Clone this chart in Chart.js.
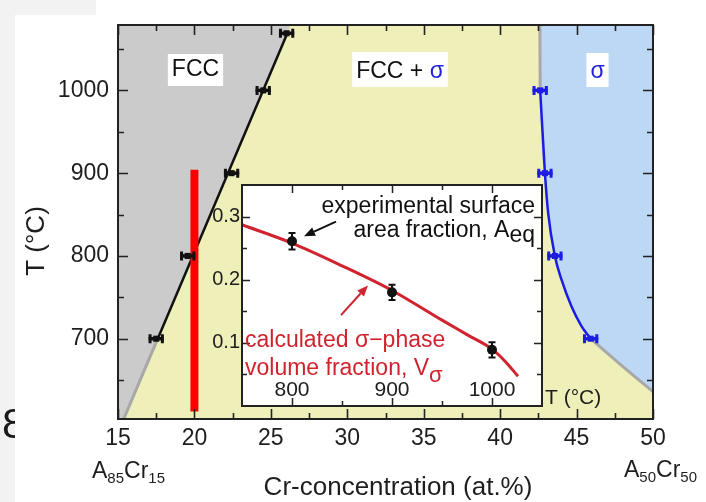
<!DOCTYPE html>
<html>
<head>
<meta charset="utf-8">
<script src="https://cdn.jsdelivr.net/npm/chart.js@4.4.0/dist/chart.umd.min.js"></script>
<style>
  html, body { margin: 0; padding: 0; background: #fff; }
  #wrap { position: relative; width: 706px; height: 502px; overflow: hidden; }
  #main { position: absolute; left: 0; top: 0; width: 706px; height: 502px; }
  #inset { position: absolute; left: 190px; top: 170px; width: 440px; height: 250px; }
</style>
</head>
<body>
<div id="wrap">
  <canvas id="main" width="706" height="502"></canvas>
  <canvas id="inset" width="440" height="250"></canvas>
</div>
<script>
// ---------- Phase diagram: Cr concentration (at.%) vs temperature (°C) ----------
const crTicks = [15, 20, 25, 30, 35, 40, 45, 50];
const crMinorTicks = [17.5, 22.5, 27.5, 32.5, 37.5, 42.5, 47.5];
const tempTicks = [700, 800, 900, 1000];
const tempMinorTicks = [650, 750, 850, 950, 1050];

// FCC / (FCC + σ) boundary: measured points with Cr uncertainty
const fccCr = [17.5, 19.56, 22.43, 24.5, 26.03];
const fccT = [700, 800, 900, 1000, 1069];
const fccErr = [0.5, 0.5, 0.5, 0.5, 0.5];
// fitted boundary and its extrapolation below 700 °C
const fccLineCr = [17.6, 26.1];
const fccLineT = [700, 1070];
const fccExtCr = [15.37, 17.6];
const fccExtT = [603, 700];
// FCC single-phase field (filled up to the top of the plot)
const fccFieldCr = [15, 15.37, 17.6, 26.1, 26.3];
const fccFieldT = [603, 603, 700, 1070, 1079];

// σ / (FCC + σ) boundary: measured points with Cr uncertainty
const sigCr = [45.92, 43.58, 42.93, 42.62];
const sigT = [700, 800, 900, 1000];
const sigErr = [0.5, 0.5, 0.5, 0.5];
// boundary curve and its grey continuations
const sigLineCr = [42.62, 42.93, 43.14, 43.58, 44.02, 44.67, 45.33, 45.92];
const sigLineT = [1000, 900, 852, 800, 771, 739, 715, 700];
const sigUpperCr = [42.6, 42.62];
const sigUpperT = [1079, 1000];
const sigLowerCr = [45.92, 48.05, 50];
const sigLowerT = [700, 666, 636];

// alloy with 20 at.% Cr, annealing temperature range
const alloyCr = [20, 20];
const alloyT = [612, 904];

// ---------- Inset: σ-phase fraction vs temperature ----------
const insetTTicks = [800, 900, 1000];
const insetTMinorTicks = [850, 950];
const insetVTicks = [0.1, 0.2, 0.3];
const insetVMinorTicks = [0.05, 0.15, 0.25];
// experimental surface area fraction A_eq
const expT = [800, 900, 1000];
const expA = [0.261, 0.180, 0.089];
const expAErr = [0.013, 0.012, 0.012];
// calculated σ-phase volume fraction V_σ
const calcT = [750, 800, 850, 900, 950, 975, 1000, 1013, 1026];
const calcV = [0.287, 0.258, 0.222, 0.183, 0.136, 0.113, 0.090, 0.071, 0.047];

// ---------- helpers ----------
const FONT = "'Liberation Sans', Arial, Helvetica, sans-serif";
Chart.defaults.font.family = FONT;
const pts = (xs, ys) => xs.map((x, i) => ({ x: x, y: ys[i] }));
const sigmaFieldCr = sigUpperCr.concat(sigLineCr.slice(1), sigLowerCr.slice(1));
const sigmaFieldT = sigUpperT.concat(sigLineT.slice(1), sigLowerT.slice(1));

function drawInwardTicks(chart, xMajor, xMinor, yMajor, yMinor, lenMajor, lenMinor, width) {
  const ctx = chart.ctx, a = chart.chartArea;
  const xs = chart.scales.x, ys = chart.scales.y;
  ctx.save();
  ctx.strokeStyle = '#222';
  ctx.lineWidth = width;
  ctx.beginPath();
  const xTick = (v, len) => {
    const px = Math.round(xs.getPixelForValue(v)) + 0.5;
    ctx.moveTo(px, a.top); ctx.lineTo(px, a.top + len);
    ctx.moveTo(px, a.bottom); ctx.lineTo(px, a.bottom - len);
  };
  const yTick = (v, len) => {
    const py = Math.round(ys.getPixelForValue(v)) + 0.5;
    ctx.moveTo(a.left, py); ctx.lineTo(a.left + len, py);
    ctx.moveTo(a.right, py); ctx.lineTo(a.right - len, py);
  };
  xMajor.forEach(v => xTick(v, lenMajor));
  xMinor.forEach(v => xTick(v, lenMinor));
  yMajor.forEach(v => yTick(v, lenMajor));
  yMinor.forEach(v => yTick(v, lenMinor));
  ctx.stroke();
  ctx.restore();
}

function drawFrame(chart, width) {
  const ctx = chart.ctx, a = chart.chartArea;
  ctx.save();
  ctx.strokeStyle = '#222';
  ctx.lineWidth = width;
  ctx.strokeRect(a.left, a.top, a.right - a.left, a.bottom - a.top);
  ctx.restore();
}

function drawArrow(ctx, x1, y1, x2, y2, color, width, headLen, headHalf) {
  const ang = Math.atan2(y2 - y1, x2 - x1);
  const bx = x2 - headLen * Math.cos(ang), by = y2 - headLen * Math.sin(ang);
  ctx.save();
  ctx.strokeStyle = color; ctx.fillStyle = color; ctx.lineWidth = width;
  ctx.beginPath(); ctx.moveTo(x1, y1); ctx.lineTo(bx, by); ctx.stroke();
  ctx.beginPath();
  ctx.moveTo(x2, y2);
  ctx.lineTo(bx + headHalf * Math.sin(ang), by - headHalf * Math.cos(ang));
  ctx.lineTo(bx - headHalf * Math.sin(ang), by + headHalf * Math.cos(ang));
  ctx.closePath(); ctx.fill();
  ctx.restore();
}

// error bars (horizontal errX or vertical errY) drawn with their dataset
const errorBars = {
  id: 'errorBars',
  afterDatasetDraw(chart, args) {
    const ds = chart.data.datasets[args.index];
    if (!ds.errX && !ds.errY) return;
    const ctx = chart.ctx, xs = chart.scales.x, ys = chart.scales.y;
    ctx.save();
    ctx.strokeStyle = ds.errColor;
    ds.data.forEach((p, j) => {
      const px = xs.getPixelForValue(p.x), py = ys.getPixelForValue(p.y);
      if (ds.errX) {
        const a = xs.getPixelForValue(p.x - ds.errX[j]);
        const b = xs.getPixelForValue(p.x + ds.errX[j]);
        ctx.lineWidth = 3.5;
        ctx.beginPath();
        ctx.moveTo(a, py); ctx.lineTo(b, py);
        ctx.stroke();
        ctx.lineWidth = 3;
        ctx.beginPath();
        ctx.moveTo(a + 1.5, py - 4.5); ctx.lineTo(a + 1.5, py + 4.5);
        ctx.moveTo(b - 1.5, py - 4.5); ctx.lineTo(b - 1.5, py + 4.5);
        ctx.stroke();
      }
      if (ds.errY) {
        const a = ys.getPixelForValue(p.y - ds.errY[j]);
        const b = ys.getPixelForValue(p.y + ds.errY[j]);
        ctx.lineWidth = 2;
        ctx.beginPath();
        ctx.moveTo(px, a); ctx.lineTo(px, b);
        ctx.moveTo(px - 3.5, a); ctx.lineTo(px + 3.5, a);
        ctx.moveTo(px - 3.5, b); ctx.lineTo(px + 3.5, b);
        ctx.stroke();
      }
    });
    ctx.restore();
  }
};

function labelBox(ctx, parts, cx, baseline, boxTop, boxBottom, padX) {
  ctx.font = '23px ' + FONT;
  const widths = parts.map(p => ctx.measureText(p.text).width);
  const total = widths.reduce((s, w) => s + w, 0);
  const x0 = cx - total / 2;
  ctx.fillStyle = '#ffffff';
  ctx.fillRect(x0 - padX, boxTop, total + 2 * padX, boxBottom - boxTop);
  let x = x0;
  ctx.textAlign = 'left';
  ctx.textBaseline = 'alphabetic';
  parts.forEach((p, i) => { ctx.fillStyle = p.color; ctx.fillText(p.text, x, baseline); x += widths[i]; });
}

function compositionLabel(ctx, x, baseline, parts) {
  let cx = x;
  ctx.textAlign = 'left';
  ctx.textBaseline = 'alphabetic';
  ctx.fillStyle = '#1e1e1e';
  parts.forEach(p => {
    ctx.font = (p.sub ? '15px ' : '23px ') + FONT;
    ctx.fillText(p.text, cx, baseline + (p.sub ? 5 : 0));
    cx += ctx.measureText(p.text).width;
  });
}

const mainDecor = {
  id: 'mainDecor',
  beforeDraw(chart) {
    const ctx = chart.ctx;
    ctx.save();
    ctx.fillStyle = '#ffffff';
    ctx.fillRect(0, 0, chart.width, chart.height);
    ctx.fillStyle = '#f2f2f2';
    ctx.fillRect(0, 0, 15, chart.height);
    ctx.fillRect(0, 0, 96, 15);
    ctx.beginPath(); ctx.rect(0, 0, 15, chart.height); ctx.clip();
    ctx.fillStyle = '#1a1a1a';
    ctx.font = '42px ' + FONT;
    ctx.textBaseline = 'alphabetic';
    ctx.fillText('8', 2, 438);
    ctx.restore();
  },
  beforeDatasetsDraw(chart) {
    const ctx = chart.ctx, a = chart.chartArea;
    ctx.save();
    ctx.fillStyle = '#efefb9';
    ctx.fillRect(a.left, a.top, a.right - a.left, a.bottom - a.top);
    ctx.restore();
  },
  afterDatasetsDraw(chart) {
    const ctx = chart.ctx;
    drawInwardTicks(chart, crTicks, crMinorTicks, tempTicks, tempMinorTicks, 10, 6, 1.6);
    drawFrame(chart, 2);
    ctx.save();
    labelBox(ctx, [{ text: 'FCC', color: '#111' }], 195.5, 76, 54, 86, 4);
    labelBox(ctx, [{ text: 'FCC + ', color: '#111' }, { text: 'σ', color: '#2222dd' }], 400, 78, 52, 87, 4);
    labelBox(ctx, [{ text: 'σ', color: '#2222dd' }], 597.5, 78, 53, 87, 4);
    ctx.restore();
  },
  afterDraw(chart) {
    const ctx = chart.ctx;
    ctx.save();
    ctx.fillStyle = '#1e1e1e';
    ctx.font = '26px ' + FONT;
    ctx.textAlign = 'center';
    ctx.textBaseline = 'alphabetic';
    ctx.fillText('Cr-concentration (at.%)', 398, 495);
    ctx.save();
    ctx.translate(44, 241);
    ctx.rotate(-Math.PI / 2);
    ctx.fillText('T (°C)', 0, 0);
    ctx.restore();
    compositionLabel(ctx, 92, 478, [{ text: 'A' }, { text: '85', sub: true }, { text: 'Cr' }, { text: '15', sub: true }]);
    compositionLabel(ctx, 624, 477, [{ text: 'A' }, { text: '50', sub: true }, { text: 'Cr' }, { text: '50', sub: true }]);
    ctx.restore();
  }
};

const insetDecor = {
  id: 'insetDecor',
  beforeDatasetsDraw(chart) {
    const ctx = chart.ctx, a = chart.chartArea;
    ctx.save();
    ctx.fillStyle = '#ffffff';
    ctx.fillRect(a.left, a.top, a.right - a.left, a.bottom - a.top);
    ctx.restore();
  },
  afterDatasetsDraw(chart) {
    const ctx = chart.ctx, a = chart.chartArea;
    const xs = chart.scales.x, ys = chart.scales.y;
    drawInwardTicks(chart, insetTTicks, insetTMinorTicks, insetVTicks, insetVMinorTicks, 8, 5, 1.5);
    drawFrame(chart, 2);
    ctx.save();
    // temperature labels inside the frame
    ctx.fillStyle = '#1e1e1e';
    ctx.font = '21px ' + FONT;
    ctx.textAlign = 'center';
    ctx.textBaseline = 'alphabetic';
    insetTTicks.forEach(v => ctx.fillText(String(v), xs.getPixelForValue(v), a.bottom - 10));
    ctx.textAlign = 'left';
    ctx.fillText('T (°C)', a.right + 3, a.bottom - 2);

    // annotation: experimental A_eq
    ctx.font = '23px ' + FONT;
    ctx.fillStyle = '#111';
    ctx.textAlign = 'right';
    ctx.fillText('experimental surface', a.right - 7, a.top + 28);
    const eqW = ctx.measureText('eq').width;
    ctx.fillText('eq', a.right - 7, a.top + 57);
    ctx.fillText('area fraction, A', a.right - 7 - eqW, a.top + 52);

    // annotation: calculated V_σ
    ctx.fillStyle = '#d0232e';
    ctx.textAlign = 'left';
    ctx.fillText('calculated σ−phase', a.left + 3, a.top + 162);
    const vText = 'volume fraction, V';
    ctx.fillText(vText, a.left + 3, a.top + 190);
    const vW = ctx.measureText(vText).width;
    ctx.font = '22px ' + FONT;
    ctx.fillText('σ', a.left + 3 + vW, a.top + 197);

    drawArrow(ctx, xs.getPixelForValue(844), ys.getPixelForValue(0.292),
      xs.getPixelForValue(812), ys.getPixelForValue(0.269), '#111', 2, 11, 4.5);
    drawArrow(ctx, xs.getPixelForValue(849), ys.getPixelForValue(0.144),
      xs.getPixelForValue(876), ys.getPixelForValue(0.191), '#d0232e', 2, 11, 4.5);
    ctx.restore();
  }
};

const lineStyle = { showLine: true, pointRadius: 0, pointHoverRadius: 0 };

new Chart(document.getElementById('main'), {
  type: 'scatter',
  data: {
    datasets: [
      { label: 'FCC boundary data', data: pts(fccCr, fccT), errX: fccErr, errColor: '#111',
        pointStyle: 'rect', pointRadius: 4.3, backgroundColor: '#111', borderWidth: 0, order: 0 },
      { label: 'σ boundary data', data: pts(sigCr, sigT), errX: sigErr, errColor: '#1c1ce6',
        pointStyle: 'rect', pointRadius: 4.3, backgroundColor: '#1c1ce6', borderWidth: 0, order: 1 },
      Object.assign({}, lineStyle, { label: 'alloy 20 at.% Cr', data: pts(alloyCr, alloyT),
        borderColor: '#ff0000', borderWidth: 8, borderCapStyle: 'butt', order: 2 }),
      Object.assign({}, lineStyle, { label: 'FCC boundary', data: pts(fccLineCr, fccLineT),
        borderColor: '#111', borderWidth: 2.5, order: 3 }),
      Object.assign({}, lineStyle, { label: 'FCC boundary extrapolated', data: pts(fccExtCr, fccExtT),
        borderColor: '#a8a8a8', borderWidth: 3, order: 4 }),
      Object.assign({}, lineStyle, { label: 'σ boundary', data: pts(sigLineCr, sigLineT),
        borderColor: '#1c1ce6', borderWidth: 2.5, cubicInterpolationMode: 'monotone', order: 5 }),
      Object.assign({}, lineStyle, { label: 'σ boundary upper', data: pts(sigUpperCr, sigUpperT),
        borderColor: '#a8a8a8', borderWidth: 3, order: 6 }),
      Object.assign({}, lineStyle, { label: 'σ boundary lower', data: pts(sigLowerCr, sigLowerT),
        borderColor: '#a8a8a8', borderWidth: 3, cubicInterpolationMode: 'monotone', order: 7 }),
      Object.assign({}, lineStyle, { label: 'FCC field', data: pts(fccFieldCr, fccFieldT),
        fill: 'end', backgroundColor: '#cbcbcb', borderColor: 'rgba(0,0,0,0)', borderWidth: 0.01, order: 8 }),
      Object.assign({}, lineStyle, { label: 'σ field', data: pts(sigmaFieldCr, sigmaFieldT),
        fill: 'end', backgroundColor: '#bcd8f5', borderColor: 'rgba(0,0,0,0)', borderWidth: 0.01,
        cubicInterpolationMode: 'monotone', order: 9 })
    ]
  },
  options: {
    responsive: false,
    animation: false,
    devicePixelRatio: 1,
    events: [],
    layout: { padding: { left: 0, top: 25, right: 53, bottom: 0 } },
    plugins: { legend: { display: false }, tooltip: { enabled: false } },
    scales: {
      x: {
        type: 'linear', position: 'bottom', min: 15, max: 50,
        afterBuildTicks: s => { s.ticks = crTicks.map(v => ({ value: v })); },
        afterFit: s => { s.height = 83; },
        grid: { display: false, drawTicks: false }, border: { display: false },
        ticks: { color: '#1e1e1e', font: { size: 23 }, padding: 6, maxRotation: 0, autoSkip: false,
          callback: v => String(v) }
      },
      y: {
        type: 'linear', position: 'left', min: 603, max: 1079,
        afterBuildTicks: s => { s.ticks = tempTicks.map(v => ({ value: v })); },
        afterFit: s => { s.width = 118; },
        grid: { display: false, drawTicks: false }, border: { display: false },
        ticks: { color: '#1e1e1e', font: { size: 23 }, padding: 9, autoSkip: false,
          callback: v => String(v) }
      }
    }
  },
  plugins: [mainDecor, errorBars]
});

new Chart(document.getElementById('inset'), {
  type: 'scatter',
  data: {
    datasets: [
      { label: 'A_eq', data: pts(expT, expA), errY: expAErr, errColor: '#111',
        pointStyle: 'circle', pointRadius: 5, backgroundColor: '#111', borderWidth: 0, order: 0 },
      Object.assign({}, lineStyle, { label: 'V_σ', data: pts(calcT, calcV),
        borderColor: '#d0232e', borderWidth: 3, cubicInterpolationMode: 'monotone', order: 1 })
    ]
  },
  options: {
    responsive: false,
    animation: false,
    devicePixelRatio: 1,
    events: [],
    layout: { padding: { left: 0, top: 15, right: 88, bottom: 8 } },
    plugins: { legend: { display: false }, tooltip: { enabled: false } },
    scales: {
      x: {
        type: 'linear', position: 'bottom', min: 750, max: 1050,
        afterFit: s => { s.height = 0; },
        ticks: { display: false },
        grid: { display: false, drawTicks: false }, border: { display: false }
      },
      y: {
        type: 'linear', position: 'left', min: 0, max: 0.35,
        afterBuildTicks: s => { s.ticks = insetVTicks.map(v => ({ value: v })); },
        afterFit: s => { s.width = 52; },
        grid: { display: false, drawTicks: false }, border: { display: false },
        ticks: { color: '#1e1e1e', font: { size: 20 }, padding: 2, autoSkip: false,
          callback: v => v.toFixed(1) }
      }
    }
  },
  plugins: [insetDecor, errorBars]
});
</script>
</body>
</html>
